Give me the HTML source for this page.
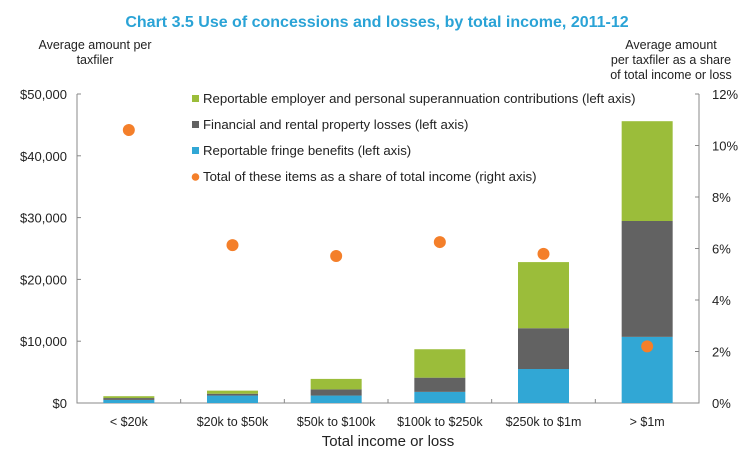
<!DOCTYPE html>
<html><head><meta charset="utf-8">
<style>
body{margin:0;background:#fff;}
svg{display:block;font-family:"Liberation Sans",Arial,sans-serif;}
</style></head>
<body>
<svg id="chart" width="754" height="455" viewBox="0 0 754 455">
<text x="377" y="27" text-anchor="middle" font-size="16" font-weight="bold" fill="#2aa3d6">Chart 3.5 Use of concessions and losses, by total income, 2011-12</text>
<text x="95" y="49" text-anchor="middle" font-size="12.5" fill="#222"><tspan x="95">Average amount per</tspan><tspan x="95" dy="15">taxfiler</tspan></text>
<text x="671" y="49" text-anchor="middle" font-size="12.5" fill="#222"><tspan x="671">Average amount</tspan><tspan x="671" dy="15">per taxfiler as a share</tspan><tspan x="671" dy="15">of total income or loss</tspan></text>
<g id="axes"></g>
<g id="bars"></g>
<g id="dots"></g>
<g id="legend" font-size="13.2" fill="#222">
<rect x="192" y="95" width="7" height="7" fill="#9bbd3a"/>
<text x="203" y="103">Reportable employer and personal superannuation contributions (left axis)</text>
<rect x="192" y="121" width="7" height="7" fill="#626262"/>
<text x="203" y="129">Financial and rental property losses (left axis)</text>
<rect x="192" y="147" width="7" height="7" fill="#31a7d5"/>
<text x="203" y="155">Reportable fringe benefits (left axis)</text>
<circle cx="195.5" cy="177" r="3.8" fill="#f47f2a"/>
<text x="203" y="181">Total of these items as a share of total income (right axis)</text>
</g>
<text x="388" y="446" text-anchor="middle" font-size="15" fill="#222">Total income or loss</text>
</svg>
<script>
const categories=["< $20k","$20k to $50k","$50k to $100k","$100k to $250k","$250k to $1m","> $1m"];
const fringe=[500,1200,1200,1800,5500,10700];
const losses=[300,300,1000,2300,6600,18750];
const superann=[300,500,1700,4600,10700,16150];
const sharePct=[10.6,6.13,5.71,6.25,5.79,2.2];
const leftTicks=[0,10000,20000,30000,40000,50000];
const leftTickLabels=["$0","$10,000","$20,000","$30,000","$40,000","$50,000"];
const rightTicks=[0,2,4,6,8,10,12];
const rightTickLabels=["0%","2%","4%","6%","8%","10%","12%"];

const NS="http://www.w3.org/2000/svg";
const X0=77,X1=699,Y0=403,Y1=94;
const bw=(X1-X0)/categories.length;
const yL=v=>Y0-(v/50000)*(Y0-Y1);
const yR=v=>Y0-(v/12)*(Y0-Y1);
const xc=i=>X0+bw*(i+0.5);
function mk(tag,attrs,parent,text){const e=document.createElementNS(NS,tag);for(const k in attrs)e.setAttribute(k,attrs[k]);if(text!==undefined)e.textContent=text;parent.appendChild(e);return e;}
const axes=document.getElementById('axes'),bars=document.getElementById('bars'),dots=document.getElementById('dots');
const ax=mk('path',{d:`M${X0} ${Y1}V${Y0}H${X1}V${Y1}`,stroke:'#888',fill:'none','stroke-width':1},axes);


leftTicks.forEach((v,i)=>{
  mk('line',{x1:X0,x2:X0+4,y1:yL(v),y2:yL(v),stroke:'#888'},axes);
  const t=mk('text',{x:X0-10,y:yL(v)+5,'text-anchor':'end','font-size':13,fill:'#222'},axes,leftTickLabels[i]);
  
  
});
rightTicks.forEach((v,i)=>{
  mk('line',{x1:X1-4,x2:X1,y1:yR(v),y2:yR(v),stroke:'#888'},axes);
  const t=mk('text',{x:X1+13,y:yR(v)+5,'font-size':13,fill:'#222'},axes,rightTickLabels[i]);
  
  
});
for(let i=1;i<categories.length;i++){mk('line',{x1:X0+bw*i,x2:X0+bw*i,y1:Y0,y2:Y0-4,stroke:'#888'},axes);}
categories.forEach((c,i)=>{
  const t=mk('text',{x:xc(i),y:426,'text-anchor':'middle','font-size':12.5,fill:'#222'},axes,c);
  
  
  const w=51,x=xc(i)-w/2;
  let base=0;
  [[fringe,'#31a7d5','bar-fringe'],[losses,'#626262','bar-losses'],[superann,'#9bbd3a','bar-super']].forEach(([arr,col,nm])=>{
    const top=base+arr[i];
    const r=mk('rect',{x:x,y:yL(top),width:w,height:yL(base)-yL(top),fill:col},bars);
    
    
    base=top;
  });
  const d=mk('circle',{cx:xc(i),cy:yR(sharePct[i]),r:6,fill:'#f47f2a'},dots);
  
  
});
</script>
</body></html>
